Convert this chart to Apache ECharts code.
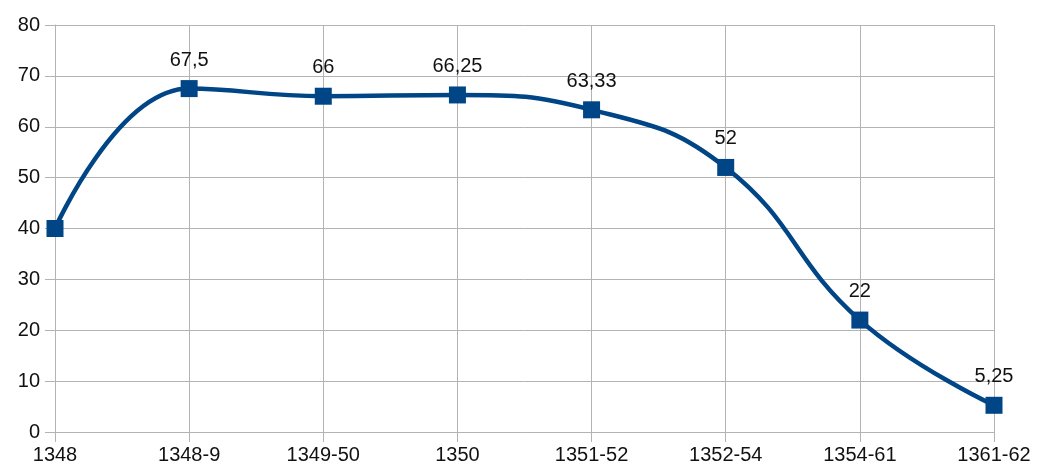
<!DOCTYPE html>
<html><head><meta charset="utf-8">
<script src="https://cdn.jsdelivr.net/npm/echarts@6/dist/echarts.min.js"></script>
<style>html,body{margin:0;padding:0;background:#fff}#c{width:1040px;height:473px}</style>
</head><body><div id="c"></div>
<script>
const categories = ['1348','1348-9','1349-50','1350','1351-52','1352-54','1354-61','1361-62'];
const values = [40, 67.5, 66, 66.25, 63.33, 52, 22, 5.25];
const yTicks = [0,10,20,30,40,50,60,70,80];
const showLabel = [false,true,true,true,true,true,true,true];

const chart = echarts.init(document.getElementById('c'));
const font = 'Liberation Sans, Arial, sans-serif';
chart.setOption({
  animation:false,
  grid:{left:55,right:46,top:25,bottom:41,containLabel:false},
  xAxis:{type:'category',data:categories,boundaryGap:false,
    axisLine:{lineStyle:{color:'#b3b3b3',width:1}},
    axisTick:{show:true,alignWithLabel:true,length:10,lineStyle:{color:'#b3b3b3'}},
    axisLabel:{color:'#111',fontFamily:font,fontSize:20,margin:13},
    splitLine:{show:true,lineStyle:{color:'#b3b3b3',width:1}}},
  yAxis:{type:'value',min:0,max:80,interval:10,
    axisLine:{show:true,lineStyle:{color:'#b3b3b3'}},
    axisTick:{show:true,length:10,lineStyle:{color:'#b3b3b3'}},
    axisLabel:{color:'#111',fontFamily:font,fontSize:20,margin:15,
      formatter:v=>yTicks.includes(v)?String(v):''},
    splitLine:{show:true,lineStyle:{color:'#b3b3b3',width:1}}},
  series:[{type:'line',smooth:0.45,
    data:values.map((v,i)=>({value:v,label:{show:showLabel[i]}})),
    symbol:'rect',symbolSize:17,
    lineStyle:{color:'#004586',width:4.5},
    itemStyle:{color:'#004586'},
    label:{show:true,position:'top',distance:10,color:'#111',fontFamily:font,fontSize:20,
      formatter:p=>String(p.value).replace('.',',')}}]
});
</script></body></html>
